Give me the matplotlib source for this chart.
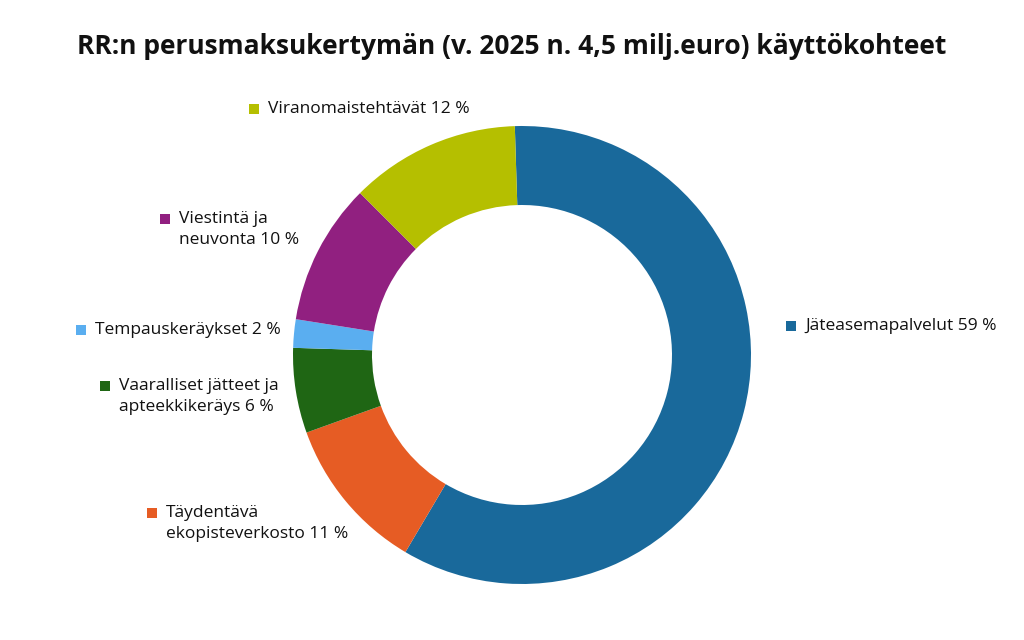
import matplotlib.pyplot as plt

labels = ["Jäteasemapalvelut 59 %", "Täydentävä\nekopisteverkosto 11 %",
          "Vaaralliset jätteet ja\napteekkikeräys 6 %", "Tempauskeräykset 2 %",
          "Viestintä ja\nneuvonta 10 %", "Viranomaistehtävät 12 %"]
values = [59, 11, 6, 2, 10, 12]
colors = ["#19699B", "#E65C24", "#1F6614", "#5AAEF0", "#912080", "#B5BF00"]

# label anchor (pixel x of square, pixel y of first line centre)
label_pos = [(786, 326), (147, 513), (100, 386), (76, 330), (160, 219), (249, 109)]

W, H = 1024, 640
fig = plt.figure(figsize=(W / 100, H / 100), dpi=100)
fig.patch.set_facecolor("white")

cx, cy, r = 522, 355, 229
ax = fig.add_axes([(cx - r) / W, (H - cy - r) / H, 2 * r / W, 2 * r / H])
ax.pie(values, colors=colors, startangle=91.8, counterclock=False, radius=1,
       wedgeprops=dict(width=0.345, edgecolor="none"))
ax.set_xlim(-1, 1)
ax.set_ylim(-1, 1)
ax.set_aspect("equal")
ax.axis("off")

fig.text(0.5, 1 - 47 / H, "RR:n perusmaksukertymän (v. 2025 n. 4,5 milj.euro) käyttökohteet",
         ha="center", va="center", fontsize=19, fontweight="bold",
         family="Open Sans", color="#111111")

for lab, col, (px, py) in zip(labels, colors, label_pos):
    fig.patches.append(plt.Rectangle((px / W, 1 - (py + 5) / H), 10 / W, 10 / H,
                                     transform=fig.transFigure, facecolor=col,
                                     edgecolor="none"))
    fig.text((px + 19) / W, 1 - (py - 8) / H, lab, ha="left", va="top",
             fontsize=12.5, family="Open Sans", color="#111111", linespacing=1.45)

fig.savefig("out.png", dpi=100, facecolor="white")
